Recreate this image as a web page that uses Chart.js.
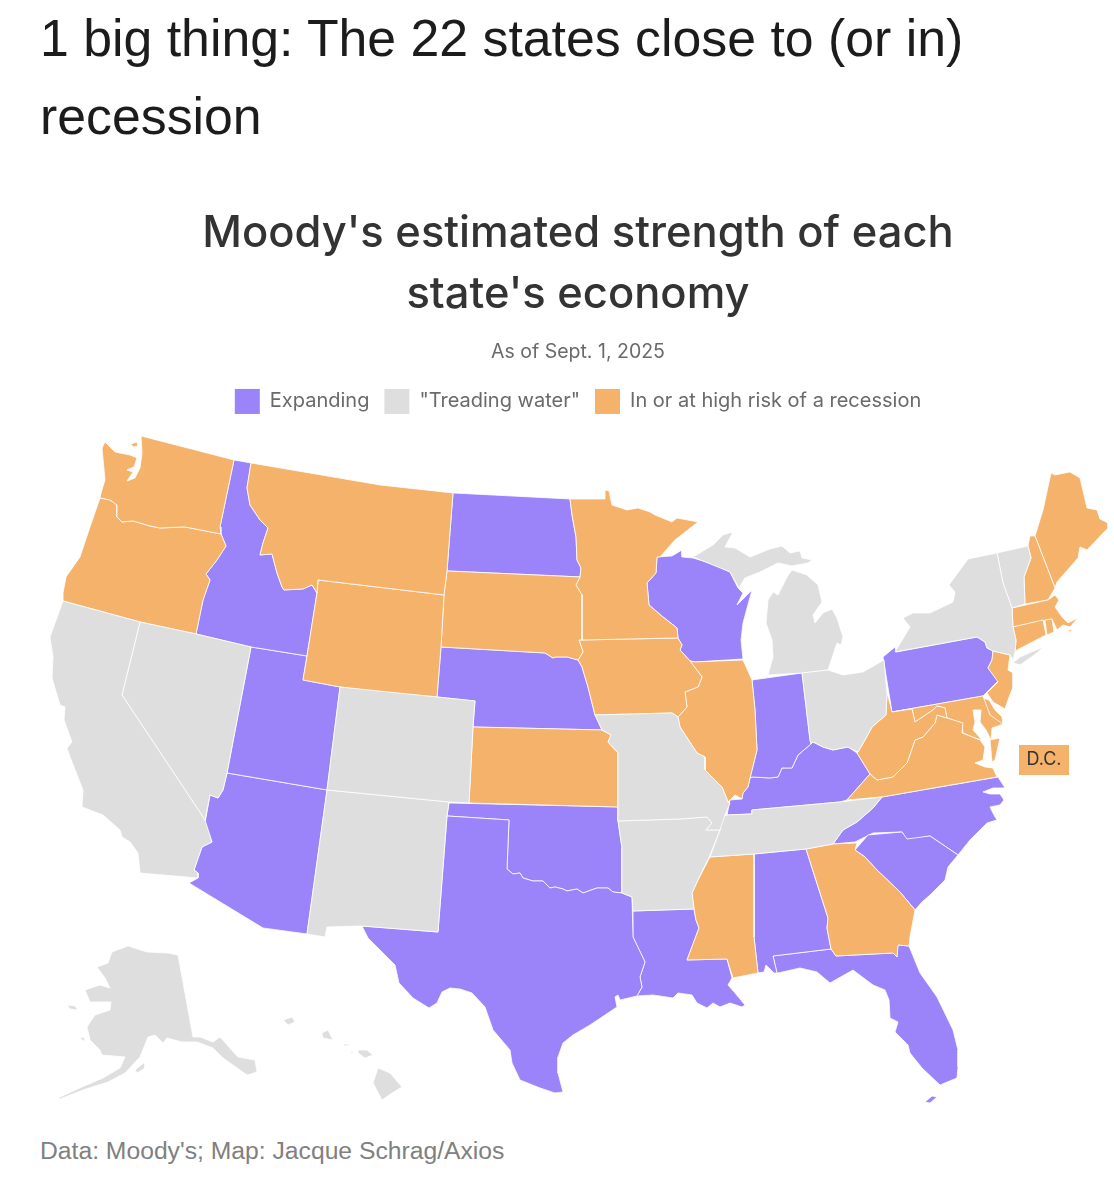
<!DOCTYPE html>
<html>
<head>
<meta charset="utf-8">
<script src="https://cdn.jsdelivr.net/npm/chart.js@4"></script>
<style>
    html, body { margin: 0; padding: 0; background: #ffffff; overflow: hidden; }
    #page { position: relative; width: 1114px; height: 1200px; overflow: hidden; }
    #headline { position: absolute; left: 40px; top: -1px; font: 51.8px/78px "Liberation Sans", sans-serif; color: #1c1c1c; white-space: nowrap; }
    #source { position: absolute; left: 40px; top: 1136px; font: 24.7px/30px "Liberation Sans", sans-serif; color: #808080; white-space: nowrap; }
    #mapChart { position: absolute; left: 0; top: 190px; }
</style>
</head>
<body>
<div id="page">
    <div id="headline">1 big thing: The 22 states close to (or in)<br>recession</div>
    <canvas id="mapChart" width="1156" height="935"></canvas>
    <div id="source">Data: Moody's; Map: Jacque Schrag/Axios</div>
</div>
<script>
// outlines, [x, y] in map units
const washington = [[141,436],[234,460],[220,527],[221,534],[185,527],[160,528],[150,526],[133,521],[122,522],[117,517],[117,505],[110,500],[100,498],[101,493],[105,480],[102,448],[105,442],[115,452],[130,455],[137,458],[134,467],[127,470],[133,472],[127,481],[135,478],[140,468],[142,453]];
const sanJuan = [[131,444],[137,442],[138,446],[133,447]];
const oregon = [[100,498],[110,500],[117,505],[117,517],[122,522],[133,521],[150,526],[160,528],[185,527],[221,534],[226,546],[217,560],[206,574],[210,580],[203,600],[196,634],[140,622],[63,601],[63,593],[66,577],[80,557],[90,527]];
const idaho = [[234,460],[251,463],[247,488],[250,505],[260,520],[268,528],[263,543],[260,555],[272,554],[277,573],[282,587],[284,590],[303,589],[312,585],[317,593],[307,656],[251,647],[196,634],[203,600],[210,580],[206,574],[217,560],[226,546],[221,534],[220,527]];
const montana = [[251,463],[380,485],[453,493],[447,571],[444,595],[318,580],[317,593],[312,585],[303,589],[284,590],[282,587],[277,573],[272,554],[260,555],[263,543],[268,528],[260,520],[250,505],[247,488]];
const wyoming = [[318,580],[444,595],[441,647],[437,697],[380,692],[340,687],[303,680],[307,656],[317,593]];
const northDakota = [[453,493],[570,499],[572,515],[576,537],[577,560],[581,568],[580,577],[447,571]];
const southDakota = [[447,571],[580,577],[576,585],[582,595],[582,640],[579,640],[583,652],[578,660],[567,657],[555,657],[553,658],[545,653],[441,647],[444,595]];
const nebraska = [[441,647],[545,653],[553,658],[555,657],[567,657],[578,660],[582,667],[588,687],[592,703],[595,715],[602,730],[473,727],[475,701],[437,697]];
const minnesota = [[570,499],[605,499],[605,490],[609,491],[612,505],[627,510],[638,508],[650,512],[655,515],[672,522],[677,518],[698,522],[675,540],[660,557],[657,557],[656,573],[647,583],[649,605],[663,617],[677,628],[678,638],[582,640],[582,595],[576,585],[580,577],[581,568],[577,560],[576,537],[572,515]];
const iowa = [[582,640],[678,638],[682,645],[680,650],[690,661],[702,677],[698,687],[685,692],[687,707],[678,717],[672,713],[595,715],[592,703],[588,687],[582,667],[578,660],[583,652],[579,640]];
const wisconsin = [[657,557],[672,556],[682,550],[682,557],[693,558],[713,564],[730,572],[738,588],[743,593],[737,605],[752,590],[743,623],[741,640],[743,659],[695,662],[690,661],[680,650],[682,645],[678,638],[677,628],[663,617],[649,605],[647,583],[656,573]];
const michiganUpper = [[693,557],[713,545],[723,535],[733,532],[725,547],[735,548],[750,557],[770,549],[782,546],[790,553],[800,551],[802,558],[812,560],[808,563],[792,566],[778,563],[760,572],[745,578],[739,588],[730,572]];
const michiganLower = [[787,577],[792,570],[807,575],[818,585],[822,602],[813,615],[815,623],[823,613],[832,609],[837,618],[843,637],[841,645],[837,643],[828,670],[803,673],[768,675],[773,657],[772,640],[766,623],[768,600],[773,592],[778,595],[782,587]];
const illinois = [[695,662],[743,660],[752,680],[755,710],[757,750],[750,778],[748,787],[743,793],[742,799],[735,795],[728,802],[722,787],[705,770],[705,757],[697,753],[680,727],[678,717],[687,707],[685,692],[698,687],[702,677],[690,661]];
const indiana = [[752,680],[802,673],[810,740],[811,744],[798,755],[792,768],[782,768],[778,777],[770,778],[752,777],[750,778],[757,750],[755,710]];
const ohio = [[802,673],[828,670],[843,675],[863,672],[884,660],[887,693],[886,715],[872,727],[865,740],[858,752],[848,747],[833,750],[823,747],[813,742],[811,744],[810,740]];
const kentucky = [[727,815],[730,800],[742,799],[743,793],[748,787],[750,778],[752,777],[770,778],[778,777],[782,768],[792,768],[798,755],[811,744],[813,742],[823,747],[833,750],[848,747],[857,753],[870,774],[847,800],[840,802],[752,810],[752,814]];
const tennessee = [[727,815],[752,814],[752,810],[840,802],[882,797],[873,808],[857,822],[843,830],[833,844],[806,849],[754,854],[710,857],[720,830],[722,817]];
const missouri = [[595,715],[672,713],[678,717],[680,727],[697,753],[705,757],[705,770],[722,787],[728,802],[730,803],[725,815],[720,830],[706,830],[712,823],[707,817],[680,819],[618,821],[618,790],[618,753],[608,742],[611,735],[602,730]];
const kansas = [[473,727],[602,730],[611,735],[608,742],[618,753],[618,807],[469,803]];
const colorado = [[340,687],[437,697],[475,701],[473,727],[469,803],[449,802],[327,790]];
const utah = [[251,647],[307,656],[303,680],[340,687],[327,790],[227,773]];
const nevada = [[140,622],[196,634],[251,647],[227,773],[223,790],[218,798],[210,795],[205,820],[122,695]];
const california = [[63,601],[140,622],[122,695],[205,820],[212,842],[202,847],[194,870],[198,873],[198,878],[140,873],[138,853],[130,842],[122,837],[120,830],[103,815],[82,807],[83,790],[70,757],[67,748],[72,742],[64,720],[65,707],[60,705],[52,678],[53,657],[50,637]];
const arizona = [[227,773],[327,790],[307,934],[263,928],[189,883],[198,878],[198,873],[194,870],[202,847],[212,842],[205,823],[210,795],[218,798],[223,790]];
const newMexico = [[327,790],[449,802],[447,816],[438,932],[361,926],[327,927],[325,937],[307,934]];
const oklahoma = [[449,803],[618,807],[618,821],[622,848],[622,893],[613,892],[608,888],[597,888],[583,893],[577,889],[567,891],[563,889],[555,887],[550,888],[543,881],[533,881],[523,878],[520,873],[513,874],[507,869],[509,820],[447,816]];
const texas = [[447,816],[509,820],[507,869],[513,874],[520,873],[523,878],[533,881],[543,881],[550,888],[555,887],[563,889],[567,891],[577,889],[583,893],[597,888],[608,888],[613,892],[622,893],[632,897],[633,937],[645,962],[640,977],[642,987],[637,996],[620,1000],[618,995],[615,997],[617,1007],[590,1025],[573,1035],[563,1043],[558,1057],[558,1073],[563,1092],[555,1093],[540,1088],[520,1080],[512,1063],[510,1050],[493,1030],[485,1007],[472,993],[460,989],[450,988],[442,992],[437,1003],[429,1008],[413,998],[399,983],[395,965],[380,950],[368,938],[362,926],[438,932]];
const arkansas = [[618,821],[680,819],[707,817],[712,823],[706,830],[720,830],[710,855],[698,880],[692,893],[694,909],[633,911],[632,897],[622,893],[622,848]];
const louisiana = [[633,911],[694,909],[696,920],[699,928],[687,960],[727,959],[732,978],[728,985],[735,993],[745,1005],[742,1007],[730,1003],[720,1007],[713,1003],[707,1008],[697,1003],[692,995],[678,993],[673,998],[653,995],[637,996],[642,987],[640,977],[645,962],[633,937]];
const mississippi = [[710,857],[754,854],[754,937],[758,973],[733,978],[727,959],[687,960],[699,928],[696,920],[694,909],[692,893],[698,880]];
const alabama = [[754,854],[806,849],[828,918],[827,928],[831,949],[773,956],[777,973],[774,973],[766,965],[764,972],[758,973],[754,937]];
const georgia = [[806,849],[833,844],[857,843],[855,850],[865,857],[877,870],[900,892],[915,910],[910,937],[909,946],[898,945],[897,957],[893,953],[836,956],[831,949],[827,928],[828,918]];
const florida = [[773,956],[831,949],[836,956],[893,953],[897,957],[898,945],[909,946],[920,973],[937,997],[953,1030],[958,1050],[958,1067],[957,1078],[940,1085],[922,1068],[910,1053],[908,1045],[895,1032],[898,1022],[890,1018],[889,1000],[885,990],[873,985],[853,970],[830,983],[817,972],[800,968],[778,973],[777,973]];
const floridaKeys = [[925,1102],[932,1096],[937,1097],[930,1103]];
const southCarolina = [[855,850],[868,835],[902,832],[907,839],[930,836],[958,855],[948,867],[945,880],[930,895],[922,902],[915,910],[900,892],[877,870],[865,857]];
const northCarolina = [[882,797],[998,777],[1005,788],[993,788],[983,792],[990,794],[1000,794],[1004,800],[1000,805],[990,807],[995,817],[997,820],[987,823],[970,840],[958,855],[930,836],[907,840],[902,832],[873,833],[855,842],[833,844],[843,830],[857,822],[873,808]];
const westVirginia = [[887,692],[892,712],[912,709],[915,722],[933,710],[937,706],[945,708],[947,718],[937,715],[935,723],[923,737],[915,740],[907,763],[893,777],[877,780],[870,774],[857,753],[858,752],[865,740],[872,727],[886,715]];
const virginia = [[847,800],[870,774],[877,780],[893,777],[907,763],[915,740],[923,737],[935,723],[937,715],[947,718],[963,723],[962,733],[980,740],[985,747],[983,760],[975,763],[985,767],[993,768],[997,777],[882,797]];
const virginiaShore = [[990,740],[1000,738],[995,760],[992,762]];
const maryland = [[892,712],[983,696],[990,715],[1003,724],[992,728],[991,740],[986,730],[980,722],[981,710],[973,710],[975,722],[973,730],[982,740],[975,738],[963,733],[962,723],[947,718],[945,708],[937,706],[933,710],[915,722],[912,709]];
const delaware = [[983,698],[989,700],[995,710],[1002,717],[1003,725],[992,728]];
const pennsylvania = [[883,657],[895,647],[896,652],[977,637],[985,642],[987,648],[993,651],[992,660],[988,668],[998,681],[987,692],[983,696],[892,712]];
const newJersey = [[993,651],[1010,655],[1008,670],[1013,673],[1013,687],[1008,700],[1005,709],[993,702],[987,693],[998,682],[988,668],[992,660]];
const newYork = [[895,652],[910,627],[903,618],[913,613],[930,613],[953,602],[955,592],[949,585],[968,559],[997,553],[1003,583],[1012,608],[1013,627],[1016,640],[1015,652],[1013,660],[1010,655],[993,651],[987,648],[985,642],[977,637]];
const longIsland = [[1013,663],[1020,657],[1043,647],[1037,653],[1020,665]];
const vermont = [[997,553],[1028,546],[1031,558],[1024,577],[1025,604],[1012,608],[1003,583]];
const newHampshire = [[1030,536],[1035,536],[1055,588],[1048,600],[1025,604],[1024,577],[1031,558],[1028,546]];
const maine = [[1035,536],[1043,510],[1051,473],[1055,475],[1070,472],[1080,478],[1087,508],[1097,510],[1100,519],[1108,523],[1108,528],[1087,550],[1080,547],[1078,558],[1057,582],[1055,588]];
const massachusetts = [[1012,608],[1048,600],[1055,595],[1059,600],[1055,607],[1062,617],[1068,623],[1078,618],[1070,627],[1063,625],[1057,630],[1052,619],[1013,627]];
const nantucket = [[1067,631],[1072,629],[1071,632]];
const connecticut = [[1013,627],[1043,620],[1046,635],[1017,650],[1015,653],[1016,640]];
const rhodeIsland = [[1045,620],[1052,619],[1054,632],[1047,635]];
const alaska = [[178,955],[193,1037],[200,1037],[213,1042],[220,1037],[238,1057],[255,1060],[257,1072],[247,1075],[240,1070],[223,1058],[213,1048],[197,1042],[182,1042],[167,1038],[163,1043],[155,1035],[148,1037],[140,1057],[125,1073],[108,1082],[83,1090],[60,1099],[58,1098],[82,1087],[103,1078],[120,1068],[125,1057],[102,1055],[100,1050],[90,1040],[87,1027],[95,1015],[110,1010],[111,1002],[90,1002],[85,990],[100,985],[110,988],[105,978],[97,967],[108,963],[112,952],[128,946],[147,952],[168,953]];
const stLawrence = [[67,1005],[75,1006],[78,1010],[70,1009]];
const nunivak = [[80,1038],[85,1037],[85,1042]];
const kodiak = [[135,1070],[145,1062],[145,1068],[137,1073]];
const bigIsland = [[378,1068],[390,1073],[402,1087],[392,1093],[382,1100],[373,1083]];
const maui = [[358,1050],[367,1050],[373,1055],[365,1058],[358,1053]];
const oahu = [[322,1033],[328,1030],[333,1040],[323,1038]];
const kauai = [[283,1020],[292,1017],[295,1022],[288,1025]];
const molokai = [[343,1044],[352,1044],[345,1046]];
const lanai = [[350,1052],[354,1052],[352,1054]];
const dcBadge = [[1019,745],[1069,745],[1069,775],[1019,775]];

const expanding = [idaho, northDakota, nebraska, wisconsin, pennsylvania, utah, arizona, texas, oklahoma, louisiana, alabama, florida, floridaKeys, southCarolina, northCarolina, indiana, kentucky];
const treadingWater = [california, nevada, colorado, newMexico, missouri, arkansas, tennessee, ohio, michiganUpper, michiganLower, newYork, longIsland, vermont, alaska, stLawrence, nunivak, kodiak, bigIsland, maui, oahu, kauai, molokai, lanai];
const recession = [washington, sanJuan, oregon, montana, wyoming, southDakota, minnesota, iowa, kansas, illinois, mississippi, georgia, westVirginia, virginia, virginiaShore, maryland, delaware, newJersey, connecticut, rhodeIsland, massachusetts, nantucket, newHampshire, maine];

const legendLabels = ["Expanding", "\"Treading water\"", "In or at high risk of a recession"];

const COLORS = {
    expanding: "#9b83fa",
    treading: "#dedede",
    recession: "#f4b26b"
};

function stateDataset(points, color) {
    return {
        data: [...points, points[0]],
        backgroundColor: color,
        borderColor: "#ffffff",
        borderWidth: 0.8,
        borderJoinStyle: "round",
        pointRadius: 0,
        pointHoverRadius: 0,
        showLine: true,
        tension: 0,
        fill: "shape"
    };
}

const datasets = [
    ...treadingWater.map(points => stateDataset(points, COLORS.treading)),
    ...recession.map(points => stateDataset(points, COLORS.recession)),
    ...expanding.map(points => stateDataset(points, COLORS.expanding)),
    { ...stateDataset(dcBadge, COLORS.recession), borderWidth: 0 }
];

const dcLabel = {
    id: "dcLabel",
    afterDatasetsDraw(chart) {
        const { ctx, scales } = chart;
        ctx.save();
        ctx.font = "18px Inter";
        ctx.fillStyle = "#333333";
        ctx.textAlign = "center";
        ctx.textBaseline = "middle";
        ctx.fillText("D.C.", scales.x.getPixelForValue(1044), scales.y.getPixelForValue(760));
        ctx.restore();
    }
};

new Chart(document.getElementById("mapChart"), {
    type: "scatter",
    data: { datasets },
    plugins: [dcLabel],
    options: {
        responsive: false,
        animation: false,
        events: [],
        scales: {
            x: { type: "linear", display: false, min: 0, max: 1156 },
            y: { type: "linear", display: false, min: 424, max: 1125, reverse: true }
        },
        plugins: {
            tooltip: { enabled: false },
            title: {
                display: true,
                text: ["Moody's estimated strength of each", "state's economy"],
                color: "#333333",
                font: { family: "Inter", size: 43.5, weight: "500", lineHeight: 1.402 },
                padding: { top: 13, bottom: 0 }
            },
            subtitle: {
                display: true,
                text: "As of Sept. 1, 2025",
                color: "#6a6a6a",
                font: { family: "Inter", size: 19.5, weight: "normal", lineHeight: 1.23 },
                padding: { top: 15, bottom: 10 }
            },
            legend: {
                display: true,
                position: "top",
                labels: {
                    boxWidth: 25,
                    boxHeight: 25,
                    padding: 15,
                    color: "#6a6a6a",
                    font: { family: "Inter", size: 20 },
                    generateLabels() {
                        return [COLORS.expanding, COLORS.treading, COLORS.recession].map((color, i) => ({
                            text: legendLabels[i],
                            fillStyle: color,
                            strokeStyle: color,
                            lineWidth: 0,
                            fontColor: "#6a6a6a"
                        }));
                    }
                }
            }
        }
    }
});
</script>
</body>
</html>
